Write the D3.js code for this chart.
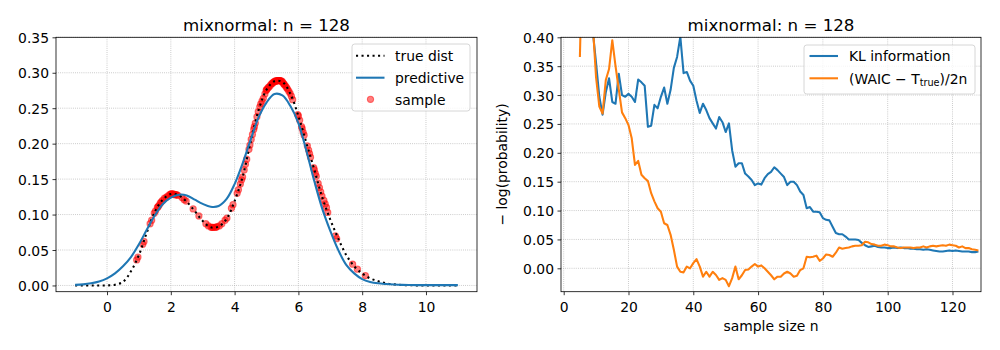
<!DOCTYPE html>
<html><head><meta charset="utf-8">
<script src="https://cdn.jsdelivr.net/npm/d3@7"></script>
<style>body{margin:0;background:#fff} text{font-family:"DejaVu Sans",sans-serif;fill:#000}</style>
</head><body><svg id="c" width="1000" height="350"></svg>
<script>
// ---------- data ----------
const titleText = "mixnormal: n = 128";
const densX = [-1,-0.75,-0.5,-0.25,0,0.25,0.5,0.75,1,1.25,1.5,1.75,2,2.25,2.5,2.75,3,3.25,3.5,3.75,4,4.25,4.5,4.75,5,5.25,5.5,5.75,6,6.25,6.5,6.75,7,7.25,7.5,7.75,8,8.25,8.5,8.75,9,9.25,9.5,9.75,10,10.25,10.5,10.75,11];
const trueDens = [0,0,0,0,0,0.001,0.005,0.02,0.043,0.075,0.104,0.121,0.129,0.127,0.118,0.105,0.091,0.082,0.083,0.094,0.119,0.153,0.202,0.247,0.276,0.288,0.287,0.270,0.239,0.201,0.163,0.124,0.093,0.066,0.043,0.027,0.017,0.010,0.006,0.003,0.0015,0.0007,0.0003,0.0001,0,0,0,0,0];
const predDens = [0.0008,0.0015,0.003,0.0055,0.010,0.017,0.027,0.040,0.058,0.079,0.099,0.115,0.124,0.128,0.127,0.121,0.115,0.111,0.112,0.122,0.143,0.172,0.205,0.237,0.258,0.270,0.268,0.253,0.229,0.190,0.147,0.108,0.077,0.050,0.029,0.017,0.009,0.005,0.003,0.002,0.0013,0.0008,0.0006,0.0005,0.0005,0.0005,0.0005,0.0005,0.0005];
const sampleX = [0.93,0.97,1.12,1.16,1.35,1.40,1.48,1.52,1.58,1.60,1.63,1.67,1.70,1.74,1.80,1.85,1.90,1.96,2.00,2.02,2.05,2.08,2.12,2.15,2.18,2.22,2.35,2.42,2.48,2.70,2.88,3.10,3.18,3.26,3.30,3.32,3.38,3.42,3.45,3.52,3.60,3.70,3.76,3.90,3.95,4.08,4.12,4.18,4.22,4.25,4.30,4.34,4.38,4.45,4.48,4.52,4.56,4.60,4.62,4.65,4.70,4.74,4.79,4.82,4.86,4.90,4.95,4.99,5.00,5.02,5.05,5.08,5.12,5.15,5.18,5.20,5.23,5.26,5.28,5.30,5.32,5.35,5.36,5.38,5.40,5.42,5.43,5.46,5.48,5.50,5.53,5.55,5.56,5.60,5.63,5.66,5.70,5.74,5.78,5.82,5.98,6.00,6.04,6.10,6.12,6.15,6.18,6.28,6.32,6.35,6.38,6.48,6.50,6.53,6.56,6.62,6.66,6.70,6.74,6.80,6.84,6.88,6.92,7.16,7.20,7.70,7.85,8.10];
const sampleY = [0.036,0.040,0.058,0.062,0.087,0.092,0.102,0.105,0.110,0.111,0.113,0.116,0.118,0.120,0.123,0.124,0.126,0.128,0.129,0.129,0.129,0.129,0.128,0.128,0.128,0.127,0.124,0.121,0.119,0.108,0.098,0.087,0.084,0.082,0.082,0.082,0.082,0.082,0.083,0.084,0.087,0.092,0.095,0.109,0.114,0.130,0.135,0.143,0.149,0.153,0.163,0.171,0.178,0.192,0.198,0.206,0.213,0.220,0.224,0.229,0.238,0.245,0.252,0.256,0.260,0.264,0.270,0.275,0.276,0.277,0.279,0.280,0.282,0.284,0.285,0.286,0.287,0.288,0.288,0.288,0.289,0.289,0.289,0.289,0.289,0.289,0.289,0.288,0.288,0.287,0.285,0.284,0.283,0.281,0.279,0.277,0.274,0.271,0.267,0.262,0.241,0.239,0.233,0.224,0.221,0.216,0.212,0.197,0.191,0.186,0.181,0.166,0.163,0.158,0.154,0.144,0.138,0.132,0.126,0.120,0.115,0.110,0.103,0.070,0.066,0.030,0.023,0.014];
const leftXTicks = [0,2,4,6,8,10];
const leftYTicks = [0,0.05,0.10,0.15,0.20,0.25,0.30,0.35];
const leftLegend = ["true dist","predictive","sample"];

const sampleSizes = d3.range(5,129);
const klInfo = [0.55,0.50,0.48,0.45,0.41,0.355,0.297,0.266,0.305,0.329,
0.288,0.285,0.337,0.300,0.297,0.302,0.297,0.288,0.327,0.322,
0.316,0.245,0.247,0.283,0.277,0.297,0.313,0.285,0.309,0.347,
0.366,0.401,0.338,0.340,0.325,0.316,0.290,0.269,0.285,0.274,
0.260,0.251,0.242,0.262,0.253,0.236,0.251,0.204,0.176,0.182,
0.182,0.164,0.159,0.153,0.144,0.147,0.145,0.156,0.163,0.167,
0.175,0.170,0.164,0.158,0.144,0.150,0.150,0.144,0.133,0.127,
0.104,0.106,0.098,0.098,0.097,0.087,0.084,0.083,0.072,0.061,
0.059,0.059,0.055,0.050,0.050,0.050,0.049,0.044,0.040,0.037,
0.038,0.039,0.037,0.036,0.036,0.035,0.035,0.036,0.035,0.036,
0.035,0.035,0.034,0.034,0.033,0.033,0.032,0.033,0.032,0.031,
0.030,0.029,0.029,0.030,0.031,0.030,0.031,0.030,0.029,0.029,
0.029,0.028,0.028,0.029];
const waic = [0.366,0.60,0.55,0.48,0.42,0.33,0.28,0.268,0.326,0.345,
0.395,0.35,0.31,0.27,0.26,0.248,0.225,0.179,0.186,0.162,
0.156,0.151,0.130,0.116,0.104,0.098,0.078,0.075,0.058,0.032,
0.003,-0.006,-0.007,0.003,0.000,0.009,0.016,0.003,-0.0145,-0.006,
-0.0145,-0.006,-0.0116,-0.020,-0.017,-0.020,-0.031,-0.017,0.003,-0.019,
-0.012,-0.003,-0.002,0.003,0.0075,0.003,0.005,0.000,-0.006,-0.012,
-0.019,-0.0145,-0.0145,-0.009,-0.006,-0.009,-0.0145,-0.013,-0.003,0.000,
0.020,0.019,0.020,0.022,0.013,0.017,0.024,0.023,0.020,0.027,
0.036,0.034,0.035,0.036,0.038,0.039,0.039,0.040,0.046,0.045,
0.042,0.041,0.039,0.039,0.041,0.040,0.038,0.038,0.036,0.035,
0.036,0.036,0.036,0.035,0.036,0.036,0.038,0.036,0.038,0.039,
0.038,0.039,0.040,0.039,0.041,0.040,0.039,0.036,0.038,0.035,
0.035,0.033,0.032,0.031];
const rightXTicks = [0,20,40,60,80,100,120];
const rightYTicks = [0,0.05,0.10,0.15,0.20,0.25,0.30,0.35,0.40];

// ---------- drawing ----------
const svg = d3.select('#c');
const C_BLUE = '#1f77b4', C_ORANGE = '#ff7f0e';
const FS = 13.9;

function frame(x, y, xTicks, yTicks, xFmt, yFmt) {
  const [x0, x1] = x.range(), [y1, y0] = y.range();
  const g = svg.append('g');
  // grid
  g.selectAll('.gx').data(xTicks).enter().append('line')
    .attr('x1', d => x(d)).attr('x2', d => x(d)).attr('y1', y0).attr('y2', y1)
    .attr('stroke', '#b0b0b0').attr('stroke-width', 0.8).attr('stroke-dasharray', '0.8,1.32');
  g.selectAll('.gy').data(yTicks).enter().append('line')
    .attr('x1', x0).attr('x2', x1).attr('y1', d => y(d)).attr('y2', d => y(d))
    .attr('stroke', '#b0b0b0').attr('stroke-width', 0.8).attr('stroke-dasharray', '0.8,1.32');
  // axes
  const ax = g.append('g').attr('transform', `translate(0,${y1})`)
    .call(d3.axisBottom(x).tickValues(xTicks).tickFormat(xFmt).tickSize(3.5).tickPadding(3.5));
  const ay = g.append('g').attr('transform', `translate(${x0},0)`)
    .call(d3.axisLeft(y).tickValues(yTicks).tickFormat(yFmt).tickSize(3.5).tickPadding(3.5));
  [ax, ay].forEach(a => {
    a.select('.domain').remove();
    a.selectAll('line').attr('stroke', '#000').attr('stroke-width', 0.8);
    a.selectAll('text').attr('font-size', FS).attr('font-family', '"DejaVu Sans", sans-serif').attr('fill', '#000');
  });
  ax.selectAll('text').attr('dy', '0.93em');
  ay.selectAll('text').attr('dy', '0.36em');
  return g;
}
function spines(x, y) {
  const [x0, x1] = x.range(), [y1, y0] = y.range();
  svg.append('rect').attr('x', x0).attr('y', y0).attr('width', x1 - x0).attr('height', y1 - y0)
    .attr('fill', 'none').attr('stroke', '#000').attr('stroke-width', 0.8);
}

// ---------- left ----------
const xL = d3.scaleLinear().domain([-1.6, 11.6]).range([56, 477]);
const yL = d3.scaleLinear().domain([-0.0088, 0.35]).range([291.7, 37.3]);
frame(xL, yL, leftXTicks, leftYTicks, d3.format('d'), d3.format('.2f'));

svg.append('g').selectAll('circle').data(sampleX).enter().append('circle')
  .attr('cx', d => xL(d)).attr('cy', (d, i) => yL(sampleY[i])).attr('r', 3.1)
  .attr('fill', 'red').attr('fill-opacity', 0.5)
  .attr('stroke', 'red').attr('stroke-opacity', 0.5).attr('stroke-width', 1.1);

const lineL = d3.line().x(d => xL(d[0])).y(d => yL(d[1])).curve(d3.curveCatmullRom.alpha(0.5));
svg.append('path').datum(densX.map((d, i) => [d, trueDens[i]])).attr('d', lineL)
  .attr('fill', 'none').attr('stroke', '#000').attr('stroke-width', 2.08).attr('stroke-dasharray', '2.08,3.43');
svg.append('path').datum(densX.map((d, i) => [d, predDens[i]])).attr('d', lineL)
  .attr('fill', 'none').attr('stroke', C_BLUE).attr('stroke-width', 2.08);
spines(xL, yL);

svg.append('text').attr('x', (56 + 477) / 2).attr('y', 31).attr('text-anchor', 'middle')
  .attr('font-size', 16.67).text(titleText);

// left legend
const lg = svg.append('g');
lg.append('rect').attr('x', 352).attr('y', 44).attr('width', 118).attr('height', 67).attr('rx', 2.8)
  .attr('fill', '#fff').attr('fill-opacity', 0.8).attr('stroke', '#cccccc').attr('stroke-width', 0.8);
const rowsL = [55.7, 77.7, 99.3];
lg.append('line').attr('x1', 356).attr('x2', 384.5).attr('y1', rowsL[0]).attr('y2', rowsL[0])
  .attr('stroke', '#000').attr('stroke-width', 2.08).attr('stroke-dasharray', '2.08,3.43');
lg.append('line').attr('x1', 356).attr('x2', 384.5).attr('y1', rowsL[1]).attr('y2', rowsL[1])
  .attr('stroke', C_BLUE).attr('stroke-width', 2.08);
lg.append('circle').attr('cx', 370.5).attr('cy', rowsL[2]).attr('r', 3.1)
  .attr('fill', 'red').attr('fill-opacity', 0.5).attr('stroke', 'red').attr('stroke-opacity', 0.5).attr('stroke-width', 1.1);
leftLegend.forEach((t, i) => lg.append('text').attr('x', 395).attr('y', rowsL[i] + 5.2).attr('font-size', FS).text(t));

// ---------- right ----------
const xR = d3.scaleLinear().domain([-0.83, 128.8]).range([561, 981]);
const yR = d3.scaleLinear().domain([-0.0405, 0.40]).range([291.7, 37.3]);
frame(xR, yR, rightXTicks, rightYTicks, d3.format('d'), d3.format('.2f'));

svg.append('clipPath').attr('id', 'clipR').append('rect')
  .attr('x', 561).attr('y', 37.3).attr('width', 420).attr('height', 254.4);
const lineR = d3.line().x((d, i) => xR(sampleSizes[i])).y(d => yR(d));
const gR = svg.append('g').attr('clip-path', 'url(#clipR)');
gR.append('path').datum(klInfo).attr('d', lineR).attr('fill', 'none').attr('stroke', C_BLUE)
  .attr('stroke-width', 2.08).attr('stroke-linejoin', 'round');
gR.append('path').datum(waic).attr('d', lineR).attr('fill', 'none').attr('stroke', C_ORANGE)
  .attr('stroke-width', 2.08).attr('stroke-linejoin', 'round');
spines(xR, yR);

svg.append('text').attr('x', (561 + 981) / 2).attr('y', 31).attr('text-anchor', 'middle')
  .attr('font-size', 16.67).text(titleText);
svg.append('text').attr('x', (561 + 981) / 2).attr('y', 331).attr('text-anchor', 'middle')
  .attr('font-size', FS).text('sample size n');
svg.append('text').attr('transform', 'translate(507,164.5) rotate(-90)').attr('text-anchor', 'middle')
  .attr('font-size', FS).text('\u2212 log(probability)');

// right legend
const rg = svg.append('g');
rg.append('rect').attr('x', 804).attr('y', 45).attr('width', 171).attr('height', 49).attr('rx', 2.8)
  .attr('fill', '#fff').attr('fill-opacity', 0.8).attr('stroke', '#cccccc').attr('stroke-width', 0.8);
const rowsR = [56, 78.3];
rg.append('line').attr('x1', 809.5).attr('x2', 838).attr('y1', rowsR[0]).attr('y2', rowsR[0])
  .attr('stroke', C_BLUE).attr('stroke-width', 2.08);
rg.append('line').attr('x1', 809.5).attr('x2', 838).attr('y1', rowsR[1]).attr('y2', rowsR[1])
  .attr('stroke', C_ORANGE).attr('stroke-width', 2.08);
rg.append('text').attr('x', 849).attr('y', rowsR[0] + 5.2).attr('font-size', FS).text('KL information');
const t2 = rg.append('text').attr('x', 849).attr('y', rowsR[1] + 5.2).attr('font-size', FS);
t2.append('tspan').text('(WAIC \u2212 T');
t2.append('tspan').attr('font-size', 9.7).attr('dy', 2.6).text('true');
t2.append('tspan').attr('dy', -2.6).text(')/2n');
</script></body></html>
